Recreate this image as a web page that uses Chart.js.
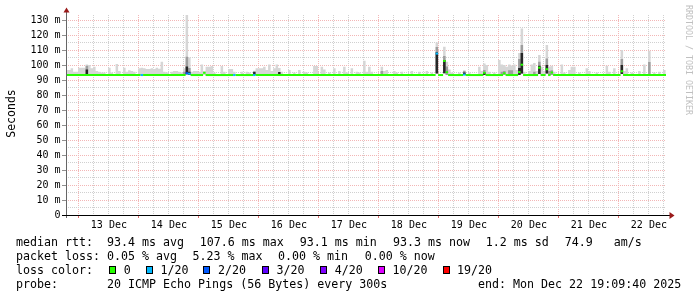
<!DOCTYPE html>
<html><head><meta charset="utf-8">
<script src="https://cdn.jsdelivr.net/npm/chart.js@4/dist/chart.umd.min.js"></script>
<style>html,body{margin:0;padding:0;background:#fff;}canvas{display:block;}</style>
</head><body>
<canvas id="c" width="697" height="297"></canvas>
<script>
// ---------------- data ----------------
// x values are hours since Dec 12 00:00 (one RRD bucket per hour)
const START_HOUR = 19.161;   // Dec 12 19:09:40
const END_HOUR = 259.161;    // Dec 22 19:09:40
const dayLabels = ['13 Dec','14 Dec','15 Dec','16 Dec','17 Dec','18 Dec','19 Dec','20 Dec','21 Dec','22 Dec'];
const yTickValues = [0,10,20,30,40,50,60,70,80,90,100,110,120,130];
const yTickLabels = ['0','10 m','20 m','30 m','40 m','50 m','60 m','70 m','80 m','90 m','100 m','110 m','120 m','130 m'];

const medianBase = 93.3; // ms, the flat median line
// [hour, median ms] where the median departs from the base
const medianPoints = [[67,94.5],[68,94.2],[74,94.8],[167,107.6],[170,102.7],[171,95.2],[178,93.6],[186,94.8],[194,94.5],[200,95.3],[201,100.2],[208,98.2],[211,97.2],[213,95.0],[241,95.8]];
// [hour, lost pings out of 20]
const medianLoss = [[49,1],[67,2],[68,1],[86,1],[94,1],[167,1],[178,1]];

// smoke: [hour, ms]
const smokeTop = [[19,96.7],[20,96.7],[21,97.8],[22,95.5],[23,95.5],[24,98.2],[25,98.2],[26,98.2],[27,100.4],[28,100.0],[29,97.8],[30,98.9],[31,96.0],[32,95.5],[33,95.0],[34,95.0],[36,98.2],[37,95.0],[39,100.6],[40,96.0],[42,98.2],[43,95.5],[44,96.5],[45,96.0],[46,95.5],[48,97.8],[49,98.2],[50,97.8],[51,97.3],[52,97.3],[53,97.8],[54,97.3],[55,98.2],[56,97.5],[57,102.2],[58,95.5],[59,95.0],[61,95.5],[62,96.0],[63,96.0],[64,95.5],[65,95.0],[66,97.8],[67,133.3],[68,105.0],[69,95.5],[70,96.0],[71,96.0],[72,95.5],[73,100.4],[74,96.0],[75,98.9],[76,98.9],[77,99.3],[78,95.0],[81,99.3],[82,95.5],[84,97.3],[85,97.3],[86,95.5],[89,95.5],[91,95.5],[92,95.0],[94,96.2],[95,97.8],[96,97.8],[97,97.8],[98,98.9],[99,96.7],[100,100.4],[101,96.0],[102,97.8],[103,100.4],[104,98.0],[105,95.5],[108,96.7],[110,95.0],[112,96.7],[114,95.5],[115,95.0],[118,99.3],[119,99.3],[121,98.9],[122,97.0],[124,95.0],[126,97.8],[128,96.0],[130,98.9],[131,95.0],[133,97.8],[135,95.5],[136,95.0],[138,102.8],[139,95.5],[140,98.9],[141,95.5],[145,98.9],[146,96.0],[147,96.7],[150,96.0],[151,95.0],[153,95.5],[157,96.0],[160,95.5],[163,96.0],[165,95.0],[167,115.0],[170,112.2],[171,102.2],[172,97.0],[173,95.0],[176,95.0],[178,96.2],[180,95.0],[184,98.9],[185,96.0],[186,101.0],[187,100.0],[188,95.5],[190,95.0],[192,103.3],[193,100.4],[194,100.0],[195,98.9],[196,100.4],[197,99.6],[198,100.4],[199,96.7],[200,108.0],[201,124.4],[202,95.5],[204,96.0],[205,100.4],[206,101.3],[207,96.0],[208,106.7],[209,98.9],[210,96.0],[211,113.3],[212,99.0],[213,99.5],[214,95.5],[217,100.4],[218,95.0],[220,96.7],[221,98.9],[222,98.9],[224,95.0],[227,97.8],[228,96.0],[231,95.0],[235,99.5],[236,95.5],[238,97.8],[241,110.0],[242,96.0],[243,97.8],[245,95.0],[248,96.0],[250,100.4],[252,109.5],[254,95.0],[256,95.5],[258,96.7]];
const smokeMid = [[27,99.5],[66,95.5],[67,105.5],[68,98.0],[145,96.0],[167,112.0],[170,106.0],[171,99.0],[178,96.2],[186,96.7],[193,95.5],[194,96.0],[196,96.5],[197,96.5],[200,104.0],[201,113.3],[206,95.5],[208,102.2],[211,104.4],[212,96.0],[213,96.5],[241,104.0],[252,102.0]];
const smokeDark = [[27,97.0],[67,99.0],[68,95.5],[94,95.5],[104,95.3],[167,108.5],[170,103.3],[178,95.0],[186,95.0],[200,98.0],[201,108.0],[208,99.5],[211,100.0],[241,100.0]];
const smokeBottom = [[67,93.8],[167,94.4],[170,94.5],[201,94.4],[208,94.0],[211,94.4],[241,94.0]];

const lossLevels = [0,1,2,3,4,10,19];
const lossLabels = ['0','1/20','2/20','3/20','4/20','10/20','19/20'];
const lossColors = ['#26ff00','#00b8ff','#0059ff','#5e00ff','#7e00ff','#dd00ff','#ff0000'];

// ---------------- build library series ----------------
const HOURS = [];
for (let h = 19; h <= 259; h++) HOURS.push(h);
const topMap = new Map(smokeTop), midMap = new Map(smokeMid), darkMap = new Map(smokeDark),
      botMap = new Map(smokeBottom), medMap = new Map(medianPoints), lossMap = new Map(medianLoss);
const bottomOf = h => botMap.has(h) ? botMap.get(h) : medianBase;
const medOf = h => medMap.has(h) ? medMap.get(h) : medianBase;
const lossOf = h => lossMap.has(h) ? lossMap.get(h) : 0;
const colorOfLoss = l => { let idx = 0; lossLevels.forEach((lv, i) => { if (l >= lv) idx = i; }); return lossColors[idx]; };
function bucketSeries(fn) {
  const pts = [];
  HOURS.forEach(h => { const v = fn(h); pts.push({x: h, y: v}, {x: h + 1, y: v}); });
  return pts;
}
const lowData = bucketSeries(bottomOf);
const lightData = bucketSeries(h => topMap.has(h) ? topMap.get(h) : bottomOf(h));
const midData = bucketSeries(h => midMap.has(h) ? midMap.get(h) : bottomOf(h));
const darkData = bucketSeries(h => darkMap.has(h) ? darkMap.get(h) : bottomOf(h));
const medData = bucketSeries(medOf);

const xGridHours = [];
for (let v = 24; v <= 258; v += 6) xGridHours.push(v);
const yGridValues = [];
for (let v = 5; v <= 130; v += 5) yGridValues.push(v);

const FONT = '"DejaVu Sans Mono", "Liberation Mono", monospace';
const MAJOR = '#f3b6b6', MINOR = '#d0d0d0';

const rrdPlugin = {
  id: 'rrd',
  beforeDraw(chart) {
    const c = chart.ctx; c.save(); c.fillStyle = '#fff'; c.fillRect(0, 0, chart.width, chart.height); c.restore();
  },
  afterDraw(chart) {
    const ctx = chart.ctx, xs = chart.scales.x, ys = chart.scales.y, a = chart.chartArea;
    ctx.save();
    // axis ticks
    ctx.lineWidth = 1;
    ctx.strokeStyle = '#e07070';
    xGridHours.filter(v => v % 24 === 0).forEach(v => {
      const px = Math.round(xs.getPixelForValue(v)) + 0.5;
      ctx.beginPath(); ctx.moveTo(px, a.bottom + 1); ctx.lineTo(px, a.bottom + 3); ctx.stroke();
    });
    ctx.strokeStyle = '#909090';
    yTickValues.forEach(v => {
      const py = Math.round(ys.getPixelForValue(v)) + 0.5;
      ctx.beginPath(); ctx.moveTo(a.left - 4, py); ctx.lineTo(a.left, py); ctx.stroke();
    });
    // axes
    ctx.strokeStyle = '#666';
    ctx.beginPath(); ctx.moveTo(a.left + 0.5, a.bottom + 3); ctx.lineTo(a.left + 0.5, a.top - 4); ctx.stroke();
    ctx.strokeStyle = '#000';
    ctx.beginPath(); ctx.moveTo(a.left - 4, a.bottom + 0.5); ctx.lineTo(a.right + 4, a.bottom + 0.5); ctx.stroke();
    ctx.fillStyle = '#9a1a1a';
    ctx.beginPath(); ctx.moveTo(a.left - 2.5, a.top - 2.5); ctx.lineTo(a.left + 3.5, a.top - 2.5); ctx.lineTo(a.left + 0.5, a.top - 7.5); ctx.closePath(); ctx.fill();
    ctx.beginPath(); ctx.moveTo(a.right + 3.5, a.bottom - 3); ctx.lineTo(a.right + 3.5, a.bottom + 4); ctx.lineTo(a.right + 8.5, a.bottom + 0.5); ctx.closePath(); ctx.fill();

    // y tick labels
    ctx.fillStyle = '#000';
    ctx.font = '10px ' + FONT;
    ctx.textAlign = 'right'; ctx.textBaseline = 'middle';
    yTickValues.forEach((v, i) => ctx.fillText(yTickLabels[i], a.left - 5.5, ys.getPixelForValue(v)));
    // x day labels (centered at noon)
    ctx.textAlign = 'center'; ctx.textBaseline = 'alphabetic';
    dayLabels.forEach((t, i) => ctx.fillText(t, xs.getPixelForValue(36 + 24 * i) + 0.8, 227.5));

    // y title
    ctx.save();
    ctx.font = '11.5px ' + FONT;
    ctx.translate(15, (a.top + a.bottom) / 2 - 1.5);
    ctx.rotate(-Math.PI / 2);
    ctx.textAlign = 'center'; ctx.textBaseline = 'alphabetic';
    ctx.fillText('Seconds', 0, 0);
    ctx.restore();

    // watermark
    ctx.save();
    ctx.font = '8.3px ' + FONT;
    ctx.fillStyle = '#c0c0c0';
    ctx.translate(688.5, 5);
    ctx.rotate(Math.PI / 2);
    ctx.textAlign = 'left'; ctx.textBaseline = 'middle';
    ctx.fillText('RRDTOOL / TOBI OETIKER', 0, 0);
    ctx.restore();

    // legend
    ctx.font = '11.65px ' + FONT;
    ctx.textAlign = 'left'; ctx.textBaseline = 'alphabetic';
    ctx.fillStyle = '#000';
    const rows = [
      [245.5, [[16, 'median rtt:'], [107, '93.4 ms avg'], [199.7, '107.6 ms max'], [299.7, '93.1 ms min'], [393, '93.3 ms now'], [485.7, '1.2 ms sd'], [564.7, '74.9'], [613.7, 'am/s']]],
      [259.5, [[16, 'packet loss:'], [107, '0.05 % avg'], [192.4, '5.23 % max'], [278, '0.00 % min'], [364.7, '0.00 % now']]],
      [273.5, [[16, 'loss color:']]],
      [287.5, [[16, 'probe:'], [107, '20 ICMP Echo Pings (56 Bytes) every 300s'], [478, 'end: Mon Dec 22 19:09:40 2025']]]
    ];
    rows.forEach(([y, items]) => items.forEach(([x, t]) => ctx.fillText(t, x, y)));
    const boxX = [109, 146, 203, 262, 320, 378, 443];
    const labX = [123.7, 160.4, 218, 276.4, 334.7, 392.4, 457];
    lossLabels.forEach((t, i) => {
      ctx.fillStyle = lossColors[i];
      ctx.fillRect(boxX[i], 266, 7, 8);
      ctx.strokeStyle = '#000'; ctx.lineWidth = 1;
      ctx.strokeRect(boxX[i] + 0.5, 266.5, 6, 7);
      ctx.fillStyle = '#000';
      ctx.fillText(t, labX[i], 273.5);
    });
    ctx.restore();
  }
};

const lineBase = {pointRadius: 0, pointHoverRadius: 0, tension: 0, clip: 0, borderWidth: 0};
new Chart(document.getElementById('c'), {
  type: 'line',
  data: {
    datasets: [
      Object.assign({}, lineBase, {
        label: 'median', data: medData, fill: false, borderWidth: 2, borderColor: lossColors[0],
        segment: {
          borderColor: c => {
            const i = c.p0DataIndex, b = Math.floor(i / 2);
            const h0 = HOURS[b];
            if (i % 2 === 0) return colorOfLoss(lossOf(h0));
            const h1 = HOURS[b + 1];
            const same = medOf(h0) === medOf(h1) && colorOfLoss(lossOf(h0)) === colorOfLoss(lossOf(h1));
            return same ? colorOfLoss(lossOf(h0)) : 'rgba(0,0,0,0)';
          }
        }
      }),
      Object.assign({}, lineBase, {label: 'dark', data: darkData, fill: 4, backgroundColor: '#262626', borderColor: 'rgba(0,0,0,0)'}),
      Object.assign({}, lineBase, {label: 'mid', data: midData, fill: 4, backgroundColor: '#9e9e9e', borderColor: 'rgba(0,0,0,0)'}),
      Object.assign({}, lineBase, {label: 'light', data: lightData, fill: 4, backgroundColor: '#d6d6d6', borderColor: 'rgba(0,0,0,0)'}),
      Object.assign({}, lineBase, {label: 'low', data: lowData, fill: false, borderColor: 'rgba(0,0,0,0)'})
    ]
  },
  options: {
    responsive: false, animation: false, devicePixelRatio: 1, events: [],
    layout: {padding: {left: 66, right: 31, top: 15, bottom: 82}},
    plugins: {legend: {display: false}, tooltip: {enabled: false}, filler: {propagate: false}},
    scales: {
      x: {
        type: 'linear', min: START_HOUR, max: END_HOUR,
        afterBuildTicks: s => { s.ticks = xGridHours.map(v => ({value: v})); },
        afterFit: s => { s.height = 0; },
        ticks: {display: false},
        grid: {color: c => (c.tick && c.tick.value % 24 === 0) ? MAJOR : MINOR, lineWidth: 1, drawTicks: false},
        border: {display: false, dash: [1, 1]}
      },
      y: {
        type: 'linear', min: 0, max: 400 / 3,
        afterBuildTicks: s => { s.ticks = yGridValues.map(v => ({value: v})); },
        afterFit: s => { s.width = 0; },
        ticks: {display: false},
        grid: {color: c => (c.tick && c.tick.value % 10 === 0) ? MAJOR : MINOR, lineWidth: 1, drawTicks: false},
        border: {display: false, dash: [1, 1]}
      }
    }
  },
  plugins: [rrdPlugin]
});
</script>
</body></html>
